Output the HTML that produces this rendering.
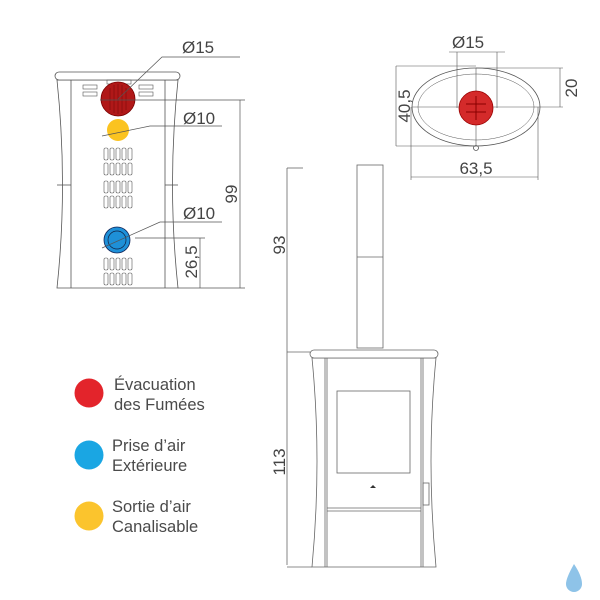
<!DOCTYPE html>
<html><head><style>
body{margin:0;background:#fff}
svg{display:block}
text{font-family:"Liberation Sans",sans-serif}
</style></head><body>
<svg width="600" height="600" viewBox="0 0 600 600">
<g fill="none" stroke="#555" stroke-width="0.8">
<path d="M57,80 Q68,185 57,288 L178,288 Q167,185 178,80 Z"/>
<rect x="55" y="72" width="125" height="8" rx="4" fill="#fff"/>
<line x1="71" y1="80" x2="71" y2="288"/>
<line x1="165" y1="80" x2="165" y2="288"/>
<line x1="57" y1="185" x2="71" y2="185"/><line x1="165" y1="185" x2="178" y2="185"/>
<g stroke-width="0.6">
<rect x="83" y="85" width="14" height="4"/><rect x="83" y="92" width="14" height="4"/>
<rect x="139" y="85" width="14" height="4"/><rect x="139" y="92" width="14" height="4"/>
<rect x="107" y="80" width="24" height="4"/>
</g>
<g stroke-width="0.6" id="vs">
<rect x="104" y="148" width="4" height="12" rx="1.5"/><rect x="110" y="148" width="4" height="12" rx="1.5"/><rect x="116" y="148" width="4" height="12" rx="1.5"/><rect x="122" y="148" width="4" height="12" rx="1.5"/><rect x="128" y="148" width="4" height="12" rx="1.5"/>
<rect x="104" y="163" width="4" height="12" rx="1.5"/><rect x="110" y="163" width="4" height="12" rx="1.5"/><rect x="116" y="163" width="4" height="12" rx="1.5"/><rect x="122" y="163" width="4" height="12" rx="1.5"/><rect x="128" y="163" width="4" height="12" rx="1.5"/>
</g>
<use href="#vs" y="33"/>
<use href="#vs" y="110"/>
</g>
<circle cx="118" cy="99" r="17" fill="#b01818" stroke="#700" stroke-width="0.8"/>
<g stroke="#7a0a0a" stroke-width="0.6"><line x1="110" y1="88" x2="110" y2="110"/><line x1="114" y1="85" x2="114" y2="113"/><line x1="118" y1="84" x2="118" y2="114"/><line x1="122" y1="85" x2="122" y2="113"/><line x1="126" y1="88" x2="126" y2="110"/></g>
<circle cx="118" cy="130" r="11" fill="#fbc320"/>
<circle cx="117" cy="240" r="13" fill="#1e90d8" stroke="#125" stroke-width="0.8"/>
<circle cx="117" cy="240" r="9" fill="none" stroke="#124" stroke-width="0.7"/>
<g stroke="#555" stroke-width="0.7" fill="none">
<polyline points="118,99 162,57 240,57"/>
<line x1="100" y1="100" x2="245" y2="100"/>
<polyline points="102,136 150,126 222,126"/>
<polyline points="102,248 160,222 222,222"/>
<line x1="135" y1="238" x2="205" y2="238"/>
<line x1="240" y1="100" x2="240" y2="288"/>
<line x1="200" y1="238" x2="200" y2="288"/>
<line x1="178" y1="288" x2="245" y2="288"/>
</g>
<g font-size="17" fill="#444">
<text x="182" y="53">Ø15</text>
<text x="183" y="124">Ø10</text>
<text x="183" y="219">Ø10</text>
<text transform="translate(237,194) rotate(-90)" text-anchor="middle">99</text>
<text transform="translate(197,262) rotate(-90)" text-anchor="middle">26,5</text>
</g>

<g fill="none" stroke="#555" stroke-width="0.8">
<ellipse cx="476" cy="107" rx="64" ry="39"/>
<ellipse cx="476" cy="107" rx="58" ry="33" stroke-width="0.5"/>
<line x1="412" y1="107" x2="563" y2="107" stroke-width="0.6"/>
<line x1="476" y1="68" x2="476" y2="146" stroke-width="0.6"/>
<line x1="457" y1="52" x2="457" y2="108" stroke-width="0.6"/>
<line x1="497" y1="52" x2="497" y2="108" stroke-width="0.6"/>
<line x1="449" y1="52" x2="505" y2="52" stroke-width="0.6"/>
<line x1="396" y1="66" x2="396" y2="146" stroke-width="0.6"/>
<line x1="396" y1="66" x2="476" y2="66" stroke-width="0.6"/>
<line x1="396" y1="146" x2="476" y2="146" stroke-width="0.6"/>
<line x1="560" y1="68" x2="560" y2="107" stroke-width="0.6"/>
<line x1="476" y1="68" x2="563" y2="68" stroke-width="0.6"/>
<line x1="411" y1="177" x2="538" y2="177" stroke-width="0.6"/>
<line x1="411" y1="107" x2="411" y2="180" stroke-width="0.6"/>
<line x1="538" y1="107" x2="538" y2="180" stroke-width="0.6"/>
<circle cx="476" cy="148" r="2.5"/>
</g>
<circle cx="476" cy="108" r="17" fill="#d42a2a" stroke="#900" stroke-width="0.8"/>
<g stroke="#8a0000" stroke-width="1"><line x1="466" y1="104" x2="486" y2="104"/><line x1="466" y1="112" x2="486" y2="112"/><line x1="476" y1="96" x2="476" y2="120"/></g>
<g font-size="17" fill="#444">
<text x="452" y="48">Ø15</text>
<text transform="translate(410,106) rotate(-90)" text-anchor="middle">40,5</text>
<text transform="translate(577,88) rotate(-90)" text-anchor="middle">20</text>
<text x="476" y="174" text-anchor="middle">63,5</text>
</g>

<g fill="none" stroke="#666" stroke-width="0.8">
<rect x="357" y="165" width="26" height="183"/>
<line x1="357" y1="257" x2="383" y2="257"/>
<path d="M312,358 Q322,460 312,567 L436,567 Q426,460 436,358 Z"/>
<rect x="310" y="350" width="128" height="8" rx="4" fill="#fff"/>
<line x1="325" y1="358" x2="325" y2="567"/><line x1="327" y1="358" x2="327" y2="567"/>
<line x1="423" y1="358" x2="423" y2="567"/><line x1="421" y1="358" x2="421" y2="567"/>
<rect x="337" y="391" width="73" height="82"/>
<line x1="327" y1="508" x2="421" y2="508"/><line x1="327" y1="511" x2="421" y2="511"/>
<rect x="423" y="483" width="6" height="22"/>
<line x1="287" y1="168" x2="287" y2="565"/>
<line x1="287" y1="168" x2="303" y2="168"/>
<line x1="287" y1="352" x2="310" y2="352"/>
<line x1="287" y1="567" x2="312" y2="567"/>
</g>
<path d="M370,488 l3,-3 l3,3 z" fill="#333"/>
<g font-size="17" fill="#444">
<text transform="translate(285,245) rotate(-90)" text-anchor="middle">93</text>
<text transform="translate(285,462) rotate(-90)" text-anchor="middle">113</text>
</g>

<circle cx="89" cy="393" r="14.5" fill="#e3242b"/>
<circle cx="89" cy="455" r="14.5" fill="#1aa6e3"/>
<circle cx="89" cy="516" r="14.5" fill="#fbc42d"/>
<g font-size="16.5" fill="#4a4a4a">
<text x="114" y="390">Évacuation</text><text x="114" y="410">des Fumées</text>
<text x="112" y="451">Prise d’air</text><text x="112" y="471">Extérieure</text>
<text x="112" y="512">Sortie d’air</text><text x="112" y="532">Canalisable</text>
</g>
<path d="M574,564 Q566,578 566,584 A8,8 0 0 0 582,584 Q582,576 574,564 Z" fill="#8ec3e8"/>
</svg>
</body></html>
